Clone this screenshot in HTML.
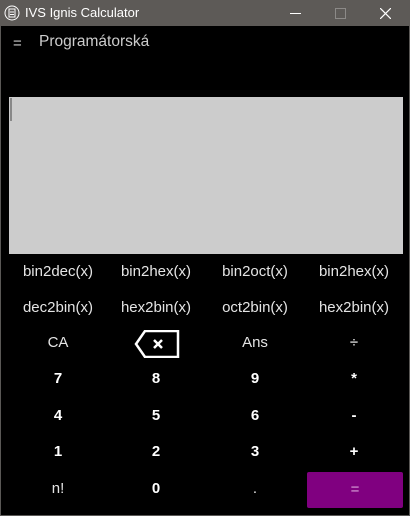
<!DOCTYPE html>
<html><head><style>
body{margin:0;width:410px;height:516px;background:#000;overflow:hidden;font-family:"Segoe UI","Liberation Sans","DejaVu Sans",sans-serif;position:relative}
.win{position:absolute;left:0;top:0;width:408px;height:514px;border:1px solid #5a5856}
.title{position:absolute;left:0;top:0;width:410px;height:26px;background:#5d5a57;color:#fff;font-size:13px}
.b{position:absolute;color:#fff;text-align:center;width:98px;font-size:15px;line-height:20px}
.f{color:#e4e4e4}
.d{font-weight:bold}
</style></head><body>
<div class="win"></div>
<div class="title">
<svg style="position:absolute;left:4px;top:5px" width="16" height="16"><circle cx="8" cy="8" r="7" fill="none" stroke="#fff" stroke-width="1"/><rect x="5" y="4" width="6" height="8" fill="none" stroke="#fff" stroke-width="1"/><line x1="6" y1="7" x2="10" y2="7" stroke="#fff"/><line x1="6" y1="9.5" x2="10" y2="9.5" stroke="#fff"/></svg>
<span style="position:absolute;left:25px;top:5px">IVS Ignis Calculator</span>
<div style="position:absolute;left:290px;top:13px;width:11px;height:1px;background:#fff"></div>
<div style="position:absolute;left:335px;top:8px;width:9px;height:9px;border:1px solid #8c8a88"></div>
<svg style="position:absolute;left:380px;top:8px" width="11" height="11"><path d="M0 0L11 11M11 0L0 11" stroke="#fff" stroke-width="1.2"/></svg>
</div>
<div style="position:absolute;left:13px;top:35px;color:#ccc;font-size:15px">=</div>
<div style="position:absolute;left:39px;top:33px;color:#ccc;font-size:15.5px">Programátorská</div>
<div style="position:absolute;left:9px;top:97px;width:394px;height:157px;background:#cccccc"></div>
<div style="position:absolute;left:10px;top:98px;width:2px;height:23px;background:#888"></div>

<div class="b f" style="left:9px;top:262px">bin2dec(x)</div>
<div class="b f" style="left:107px;top:262px">bin2hex(x)</div>
<div class="b f" style="left:206px;top:262px">bin2oct(x)</div>
<div class="b f" style="left:305px;top:262px">bin2hex(x)</div>
<div class="b f" style="left:9px;top:298px">dec2bin(x)</div>
<div class="b f" style="left:107px;top:298px">hex2bin(x)</div>
<div class="b f" style="left:206px;top:298px">oct2bin(x)</div>
<div class="b f" style="left:305px;top:298px">hex2bin(x)</div>
<div class="b f" style="left:9px;top:333px">CA</div>
<svg style="position:absolute;left:134px;top:330px" width="46" height="28"><path d="M11 1H44V27H11L2 14Z" fill="none" stroke="#fff" stroke-width="2.5"/><path d="M20 10L28 18M28 10L20 18" stroke="#fff" stroke-width="2.5"/></svg>
<div class="b f" style="left:206px;top:333px">Ans</div>
<div class="b" style="left:305px;top:333px">÷</div>
<div class="b d" style="left:9px;top:369px">7</div>
<div class="b d" style="left:107px;top:369px">8</div>
<div class="b d" style="left:206px;top:369px">9</div>
<div class="b d" style="left:305px;top:369px">*</div>
<div class="b d" style="left:9px;top:406px">4</div>
<div class="b d" style="left:107px;top:406px">5</div>
<div class="b d" style="left:206px;top:406px">6</div>
<div class="b d" style="left:305px;top:406px">-</div>
<div class="b d" style="left:9px;top:442px">1</div>
<div class="b d" style="left:107px;top:442px">2</div>
<div class="b d" style="left:206px;top:442px">3</div>
<div class="b d" style="left:305px;top:442px">+</div>
<div class="b f" style="left:9px;top:479px">n!</div>
<div class="b d" style="left:107px;top:479px">0</div>
<div class="b f" style="left:206px;top:479px">.</div>
<div style="position:absolute;left:307px;top:472px;width:96px;height:36px;background:#800080;border-radius:2px;color:#d9a0d9;text-align:center;line-height:35px;font-size:15px">=</div>
</body></html>
